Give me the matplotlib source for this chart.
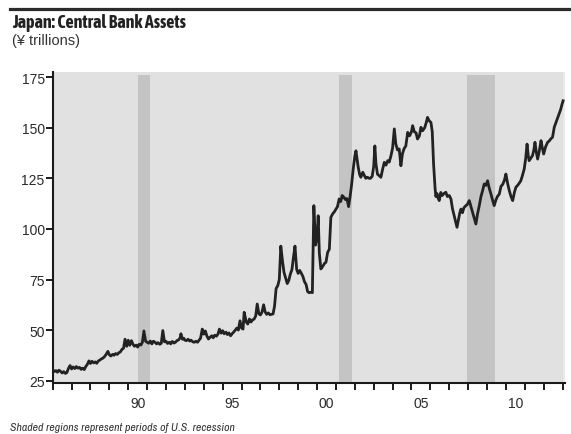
import matplotlib
matplotlib.use("Agg")
import matplotlib.pyplot as plt
from matplotlib.lines import Line2D

# BoJ total assets, yen trillions, by decimal year
t = [1986.00, 1986.08, 1986.17, 1986.25, 1986.33, 1986.42, 1986.50, 1986.58, 1986.67, 1986.75, 1986.83, 1986.92,
     1987.00, 1987.08, 1987.17, 1987.25, 1987.33, 1987.42, 1987.50, 1987.58, 1987.67, 1987.75, 1987.83, 1987.92,
     1988.00, 1988.08, 1988.17, 1988.25, 1988.33, 1988.42, 1988.50, 1988.58, 1988.67, 1988.75, 1988.83, 1988.92,
     1989.00, 1989.08, 1989.17, 1989.25, 1989.33, 1989.42, 1989.50, 1989.58, 1989.67, 1989.75, 1989.83, 1989.92,
     1990.00, 1990.08, 1990.17, 1990.25, 1990.33, 1990.42, 1990.50, 1990.58, 1990.67, 1990.75, 1990.83, 1990.92,
     1991.00, 1991.08, 1991.17, 1991.25, 1991.33, 1991.42, 1991.50, 1991.58, 1991.67, 1991.75, 1991.83, 1991.92,
     1992.00, 1992.08, 1992.17, 1992.25, 1992.33, 1992.42, 1992.50, 1992.58, 1992.67, 1992.75, 1992.79, 1992.87, 1992.94,
     1993.00, 1993.08, 1993.17, 1993.25, 1993.33, 1993.42, 1993.50, 1993.58, 1993.67, 1993.75, 1993.83, 1993.92,
     1994.00, 1994.08, 1994.17, 1994.25, 1994.33, 1994.42, 1994.50, 1994.58, 1994.67, 1994.75, 1994.83, 1994.92,
     1995.00, 1995.08, 1995.17, 1995.25, 1995.33, 1995.42, 1995.50, 1995.58, 1995.67, 1995.75, 1995.83, 1995.92,
     1996.00, 1996.08, 1996.14, 1996.25, 1996.33, 1996.42, 1996.50, 1996.58, 1996.67, 1996.75, 1996.83, 1996.92,
     1997.00, 1997.08, 1997.17, 1997.25, 1997.33, 1997.42, 1997.50, 1997.58, 1997.67, 1997.75, 1997.83, 1997.92,
     1998.00, 1998.08, 1998.17, 1998.25, 1998.33, 1998.42, 1998.50, 1998.58, 1998.67, 1998.75, 1998.83, 1998.92,
     1999.00, 1999.08, 1999.17, 1999.25, 1999.33, 1999.42, 1999.50, 1999.58, 1999.67, 1999.75, 1999.83, 1999.92,
     2000.00, 2000.06, 2000.12, 2000.20, 2000.30, 2000.40, 2000.47, 2000.56, 2000.65, 2000.73, 2000.83, 2000.92,
     2001.00, 2001.08, 2001.17, 2001.25, 2001.33, 2001.42, 2001.50, 2001.58, 2001.67, 2001.75, 2001.83, 2001.92,
     2002.00, 2002.06, 2002.17, 2002.25, 2002.32, 2002.42, 2002.50, 2002.58, 2002.67, 2002.75, 2002.83, 2002.92,
     2003.00, 2003.06, 2003.12, 2003.20, 2003.29, 2003.38, 2003.46, 2003.56, 2003.65, 2003.74, 2003.82, 2003.91,
     2004.00, 2004.09, 2004.17, 2004.26, 2004.35, 2004.44, 2004.52, 2004.60, 2004.70, 2004.80, 2004.90,
     2005.00, 2005.06, 2005.15, 2005.24, 2005.32, 2005.42, 2005.50, 2005.59, 2005.70, 2005.78, 2005.85, 2005.93,
     2006.03, 2006.10, 2006.17, 2006.25, 2006.29, 2006.35, 2006.42, 2006.47, 2006.55, 2006.63, 2006.72, 2006.82, 2006.90,
     2007.00, 2007.09, 2007.17, 2007.26, 2007.33, 2007.41, 2007.50, 2007.56, 2007.62, 2007.70, 2007.78, 2007.88, 2007.95,
     2008.06, 2008.15, 2008.24, 2008.33, 2008.41, 2008.50, 2008.59, 2008.68, 2008.77, 2008.85, 2008.94,
     2009.03, 2009.12, 2009.21, 2009.30, 2009.38, 2009.46, 2009.55, 2009.65, 2009.74, 2009.83, 2009.92,
     2010.00, 2010.09, 2010.18, 2010.27, 2010.36, 2010.45, 2010.53, 2010.62, 2010.70, 2010.79, 2010.88, 2010.97,
     2011.05, 2011.12, 2011.18, 2011.23, 2011.32, 2011.41, 2011.48, 2011.54, 2011.61, 2011.68, 2011.76, 2011.86, 2011.93,
     2012.00, 2012.10, 2012.21, 2012.30, 2012.38, 2012.47, 2012.56, 2012.65, 2012.73, 2012.82, 2012.90, 2012.97, 2013.03]

assets = [30.5, 29.5, 30.0, 29.2, 30.2, 29.6, 28.8, 29.5, 28.6, 29.0, 31.0, 32.5,
          30.8, 31.8, 31.0, 32.0, 31.2, 31.6, 30.6, 31.2, 30.5, 32.0, 33.0, 34.8,
          33.5, 34.6, 33.8, 34.3, 33.6, 34.8, 35.2, 35.8, 36.2, 37.0, 38.0, 39.5,
          37.8, 37.2, 38.0, 37.6, 38.4, 38.0, 38.8, 39.2, 40.5, 41.0, 45.5, 42.0,
          45.0, 42.5, 44.8, 43.0, 42.0, 42.6, 41.6, 43.0, 42.6, 44.0, 49.6, 44.5,
          44.0, 43.5, 44.6, 43.2, 44.5, 44.0, 43.2, 43.8, 43.0, 43.5, 49.8, 44.2,
          44.5, 43.4, 44.0, 43.2, 44.4, 43.6, 44.0, 44.8, 45.2, 46.2, 48.2, 45.5, 46.0,
          45.0, 44.8, 45.5, 44.6, 45.0, 44.2, 44.0, 44.5, 44.0, 45.0, 46.0, 50.5,
          48.0, 49.6, 47.0, 45.6, 46.4, 47.2, 46.2, 47.5, 47.0, 48.0, 50.5, 48.5,
          49.7, 48.2, 49.0, 47.8, 48.6, 47.2, 48.2, 49.0, 50.0, 51.0, 50.0, 54.6,
          51.0, 50.5, 58.8, 54.0, 53.0, 55.5, 54.0, 55.0, 55.5, 57.0, 62.9, 58.0,
          57.5, 58.8, 62.5, 59.0, 57.8, 58.5, 57.6, 57.8, 58.0, 62.0, 70.5, 72.0,
          75.0, 91.5, 84.0, 78.5, 76.0, 73.0, 74.5, 77.5, 80.0, 86.0, 91.5, 80.0,
          78.0, 79.5, 78.0, 76.5, 74.0, 72.5, 69.0, 68.5, 68.7, 68.5, 111.5, 92.0,
          96.0, 106.5, 88.0, 80.2, 81.5, 83.0, 83.5, 88.4, 90.0, 105.7, 107.5, 108.5,
          109.8, 111.0, 114.8, 113.5, 116.5, 115.6, 114.5, 115.0, 111.0, 116.0, 122.0, 130.0,
          136.0, 138.6, 131.0, 127.0, 125.5, 128.0, 126.5, 125.0, 125.5, 125.0, 125.0, 126.0,
          131.0, 141.0, 132.0, 127.0, 126.3, 125.5, 129.0, 132.9, 131.5, 133.7, 133.0, 136.0,
          140.0, 149.4, 142.0, 139.0, 139.5, 131.2, 137.0, 139.5, 141.0, 147.7, 146.0,
          148.0, 151.0, 148.0, 147.5, 144.4, 146.0, 150.2, 148.5, 150.0, 152.5, 155.1, 153.5,
          152.6, 148.0, 132.0, 120.0, 116.0, 117.5, 115.0, 114.0, 118.0, 116.5, 117.5, 118.1, 116.0,
          116.5, 114.8, 110.0, 106.5, 104.0, 100.8, 105.0, 108.0, 109.8, 108.0, 110.5, 111.5, 112.0,
          114.0, 111.0, 108.2, 105.0, 102.4, 107.5, 111.5, 116.0, 119.0, 122.2, 121.5,
          123.8, 120.0, 117.2, 114.0, 111.5, 114.0, 116.0, 117.2, 121.0, 122.0, 124.0,
          127.1, 122.5, 118.9, 116.0, 114.0, 118.0, 120.6, 121.5, 122.5, 123.8, 126.5, 129.6,
          135.0, 141.9, 136.5, 133.7, 135.0, 136.2, 139.0, 142.8, 138.0, 134.5, 138.0, 143.6, 140.0,
          137.0, 140.5, 142.8, 143.5, 144.5, 145.3, 150.2, 152.5, 154.5, 156.8, 159.0, 161.5, 163.3]

# US recessions (NBER): Jul 1990-Mar 1991, Mar-Nov 2001, Dec 2007-Jun 2009
recessions = [(1990.5, 1991.17), (2001.17, 2001.85), (2007.92, 2009.43)]

yticks = [25, 50, 75, 100, 125, 150, 175]
label_years = [1990, 1995, 2000, 2005, 2010]
label_text = ['90', '95', '00', '05', '10']

bold_cond = ['Asap Condensed', 'Barlow Condensed', 'Liberation Sans Narrow', 'Liberation Sans', 'DejaVu Sans']
narrow = ['Archivo Narrow', 'Liberation Sans Narrow', 'Liberation Sans', 'DejaVu Sans']
plt.rcParams['font.family'] = ['Liberation Sans', 'DejaVu Sans']

fig = plt.figure(figsize=(5.71, 4.35), dpi=100)
ax = fig.add_axes([0.0923, 0.1172, 0.8972, 0.7143])

ax.set_facecolor('#e1e1e1')
for a, b in recessions:
    ax.axvspan(a, b, ymin=0, ymax=0.991, color='#c4c4c4', lw=0, zorder=1)
ax.axvspan(2013.0, 2013.2, color='#e9e9e9', lw=0, zorder=1)

ax.plot(t, assets, color='#222222', lw=2.0, zorder=3, solid_joinstyle='round')

ax.set_xlim(1986.0, 2013.13)
ax.set_ylim(23.86, 177.37)

for s in ['top', 'right']:
    ax.spines[s].set_visible(False)
for s in ['left', 'bottom']:
    ax.spines[s].set_linewidth(1.5)
    ax.spines[s].set_color('#1a1a1a')

ax.set_yticks(yticks)
ax.set_yticklabels([str(v) for v in yticks])
ax.tick_params(axis='y', length=5, width=1.4, color='#1a1a1a', pad=0.8,
               labelsize=10, labelcolor='#2a2a2a')

# year ticks on the bottom axis, labels sit in the middle of the year
ax.set_xticks(list(range(1986, 2014)))
ax.set_xticklabels([])
ax.tick_params(axis='x', which='major', direction='out', length=5, width=1.4, color='#1a1a1a')
ax.set_xticks([y + 0.5 for y in label_years], minor=True)
ax.set_xticklabels(label_text, minor=True)
ax.tick_params(axis='x', which='minor', length=0, pad=9, labelsize=10, labelcolor='#2a2a2a')

# header rule and titles
fig.add_artist(Line2D([10 / 571, 1.0], [1 - 10 / 435, 1 - 10 / 435], transform=fig.transFigure,
                      color='#2b2b2b', lw=2.3))
fig.text(12 / 571, 1 - 13.5 / 435, 'Japan: Central Bank Assets', family=bold_cond, weight='bold',
         fontsize=13, color='#222222', ha='left', va='top')
fig.text(12 / 571, 1 - 34 / 435, '(¥ trillions)', fontsize=10.5, color='#333333',
         ha='left', va='top')
fig.text(10 / 571, 1 - 428 / 435, 'Shaded regions represent periods of U.S. recession',
         family=narrow, style='italic', fontsize=8.5, color='#333333', ha='left', va='center')

fig.savefig('out.png', dpi=100, facecolor='white')
